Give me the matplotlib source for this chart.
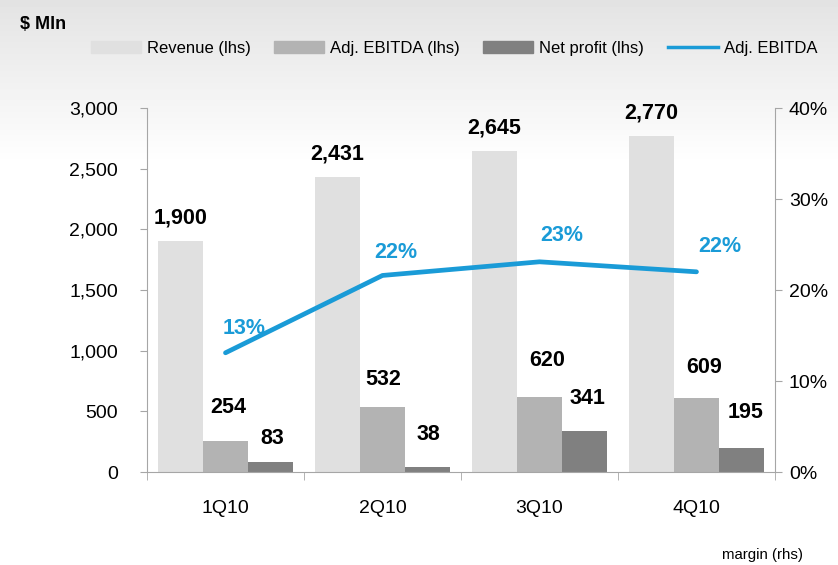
import numpy as np
import matplotlib
matplotlib.use("Agg")
import matplotlib.pyplot as plt
from matplotlib.patches import Patch
from matplotlib.lines import Line2D

plt.rcParams['font.family'] = ['Liberation Sans', 'DejaVu Sans']

quarters = ['1Q10', '2Q10', '3Q10', '4Q10']
revenue = [1900, 2431, 2645, 2770]
ebitda = [254, 532, 620, 609]
net_profit = [83, 38, 341, 195]
margin = [13.1, 21.6, 23.1, 22.0]
margin_labels = ['13%', '22%', '23%', '22%']

# label offsets in pixels (dx, dy) as placed in the original chart
rev_off = [(0, 23), (0, 23), (0, 23), (0, 23)]
ebitda_off = [(3, 34), (1, 28), (8, 36), (8, 31)]
net_off = [(2, 23), (1, 33), (3, 32), (4, 36)]
pct_off = [(19, 24), (13, 23), (22, 26), (23, 25)]

c_rev = '#e0e0e0'
c_ebitda = '#b3b3b3'
c_net = '#808080'
c_line = '#1a9bd7'
c_axis = '#a6a6a6'

fig = plt.figure(figsize=(8.38, 5.65), dpi=100)

# background gradient at the top
bg = fig.add_axes([0, 0, 1, 1], zorder=-10)
grad = np.ones((565, 1))
grad[:165, 0] = np.linspace(0.89, 1.0, 165)
bg.imshow(grad, aspect='auto', cmap='gray', vmin=0, vmax=1, extent=[0, 1, 0, 1])
bg.axis('off')

ax = fig.add_axes([0.1754, 0.1646, 0.7494, 0.6442])
ax.set_facecolor('none')
x = np.arange(len(quarters))
w = 0.287

ax.bar(x - w, revenue, w, color=c_rev)
ax.bar(x, ebitda, w, color=c_ebitda)
ax.bar(x + w, net_profit, w, color=c_net)

lab = dict(ha='center', va='center', fontsize=15.5, fontweight='bold', textcoords='offset pixels')
for i in range(len(quarters)):
    ax.annotate(f'{revenue[i]:,}', (x[i] - w, revenue[i]), xytext=rev_off[i], **lab)
    ax.annotate(f'{ebitda[i]:,}', (x[i], ebitda[i]), xytext=ebitda_off[i], **lab)
    ax.annotate(f'{net_profit[i]:,}', (x[i] + w, net_profit[i]), xytext=net_off[i], **lab)

ax.set_xlim(-0.5, 3.5)
ax.set_ylim(0, 3000)
ax.set_yticks(range(0, 3001, 500))
ax.set_yticklabels([f'{v:,}' for v in range(0, 3001, 500)], fontsize=14)
ax.set_xticks(x)
ax.set_xticklabels(quarters, fontsize=14)
ax.tick_params(axis='x', length=0, pad=20)
ax.set_xticks(np.arange(-0.5, 4, 1), minor=True)
ax.tick_params(axis='x', which='minor', length=6, color=c_axis)
ax.tick_params(axis='y', length=5, color=c_axis, pad=16)
for s in ['top', 'right']:
    ax.spines[s].set_visible(False)
ax.spines['left'].set_color(c_axis)
ax.spines['bottom'].set_color(c_axis)

ax2 = ax.twinx()
ax2.plot(x, margin, color=c_line, linewidth=3.4, solid_capstyle='round')
for i in range(len(quarters)):
    ax2.annotate(margin_labels[i], (x[i], margin[i]), xytext=pct_off[i], textcoords='offset pixels',
                 ha='center', va='center', fontsize=15.5, fontweight='bold', color=c_line)
ax2.set_ylim(0, 40)
ax2.set_yticks(range(0, 41, 10))
ax2.set_yticklabels([f'{v}%' for v in range(0, 41, 10)], fontsize=14)
ax2.tick_params(axis='y', length=5, color=c_axis, pad=5)
for s in ['top', 'left', 'bottom']:
    ax2.spines[s].set_visible(False)
ax2.spines['right'].set_color(c_axis)

fig.text(0.024, 0.956, r'\$ Mln', fontsize=13, fontweight='bold', va='center')

handles = [Patch(color=c_rev), Patch(color=c_ebitda), Patch(color=c_net),
           Line2D([0], [0], color=c_line, linewidth=2.5)]
labels = ['Revenue (lhs)', 'Adj. EBITDA (lhs)', 'Net profit (lhs)', 'Adj. EBITDA']
fig.legend(handles, labels, ncol=4, loc='center', bbox_to_anchor=(0.542, 0.915), frameon=False,
           fontsize=12, handlelength=3.0, handleheight=0.7, columnspacing=1.4, handletextpad=0.36,
           borderpad=0, borderaxespad=0)
fig.text(0.958, 0.018, 'margin (rhs)', fontsize=10.8, ha='right', va='center')

fig.savefig('out.png', dpi=100)
